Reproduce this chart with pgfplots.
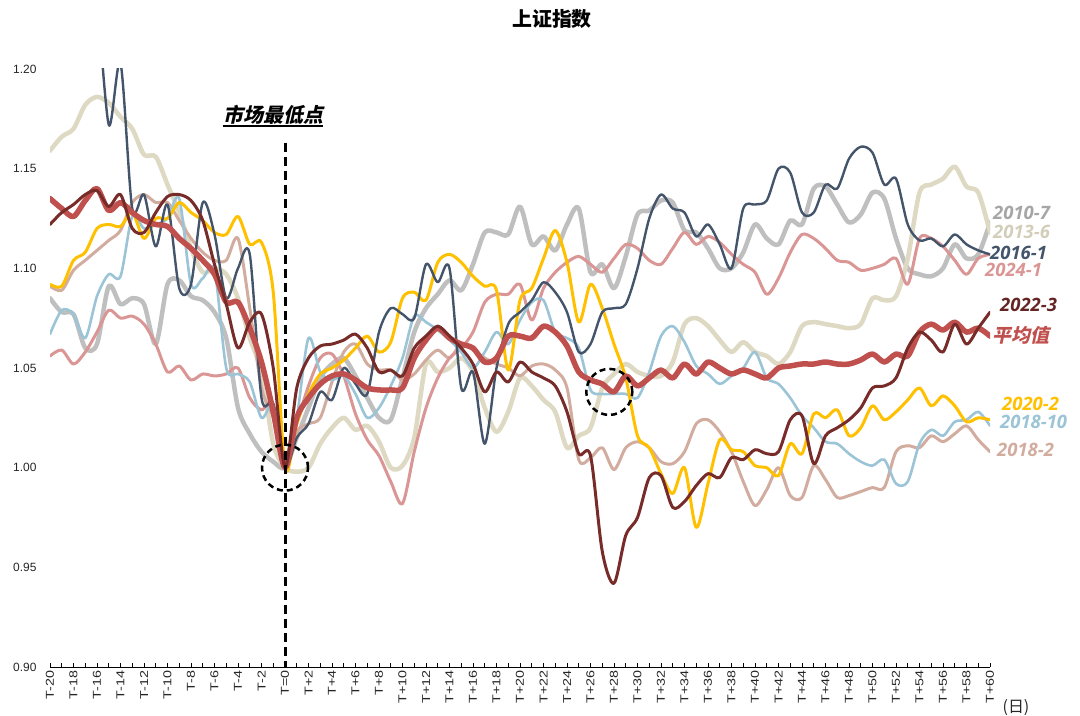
\documentclass[border=0pt]{standalone}
\usepackage{fontspec}
\setmainfont{Liberation Sans}
\newfontfamily\cjk{Noto Sans CJK SC}
\newfontfamily\cjksl{Noto Sans CJK SC}[FakeSlant=0.22]
\newfontfamily\lab{Open Sans}
\usepackage{graphicx}
\usepackage{pgfplots}
\usepackage{pgfplotstable}
\pgfplotsset{compat=1.18}
\definecolor{c2010}{HTML}{BFBFBF}
\definecolor{c2013}{HTML}{DDD9C3}
\definecolor{c2016}{HTML}{44546A}
\definecolor{c2024}{HTML}{DA9694}
\definecolor{c2022}{HTML}{772C2A}
\definecolor{cavg}{HTML}{C0504D}
\definecolor{c2020}{HTML}{FFC000}
\definecolor{c1810}{HTML}{9BC4D6}
\definecolor{c1802}{HTML}{D2AD9F}
% t, 2010-7, 2013-6, 2016-1, 2024-1, 2022-3, avg, 2020-2, 2018-10, 2018-2
\pgfplotstableread{
t a b c d e f g h i
-20 1.085 1.159 nan 1.056 1.122 1.135 1.092 1.067 1.091
-19 1.078 1.166 nan 1.059 1.128 1.130 1.091 1.079 1.089
-18 1.077 1.170 nan 1.052 1.132 1.126 1.104 1.077 1.099
-17 1.060 1.182 nan 1.058 1.137 1.134 1.108 1.065 1.104
-16 1.062 1.186 1.240 1.068 1.139 1.140 1.120 1.086 1.109
-15 1.091 1.183 1.172 1.079 1.131 1.129 1.122 1.097 1.114
-14 1.082 1.176 1.203 1.075 1.137 1.133 1.121 1.096 1.119
-13 1.085 1.170 1.130 1.076 1.120 1.128 1.128 1.126 1.133
-12 1.082 1.157 1.137 1.072 1.118 1.124 1.115 1.120 1.137
-11 1.062 1.156 1.111 1.062 1.128 1.122 1.125 1.122 1.133
-10 1.092 1.142 1.132 1.048 1.136 1.121 1.125 1.125 1.133
-9 1.094 1.128 1.090 1.051 1.137 1.115 1.133 1.135 1.124
-8 1.086 1.110 1.092 1.044 1.134 1.110 1.128 1.092 1.115
-7 1.084 1.098 1.133 1.047 1.124 1.104 1.124 1.095 1.108
-6 1.078 1.100 1.117 1.046 1.102 1.097 1.118 1.099 1.104
-5 1.065 1.097 1.085 1.047 1.082 1.083 1.117 1.050 1.104
-4 1.030 1.085 1.100 1.050 1.060 1.083 1.126 1.047 1.115
-3 1.017 1.065 1.107 1.035 1.073 1.070 1.112 1.043 1.080
-2 1.008 1.048 1.035 1.029 1.077 1.053 1.113 1.025 1.040
-1 1.003 1.012 1.032 1.032 1.050 1.028 1.088 1.031 1.025
0 1.000 1.000 1.000 1.000 1.000 1.000 1.000 1.000 1.000
1 1.015 0.998 1.015 1.022 1.040 1.025 1.022 1.025 1.018
2 1.030 1.000 1.022 1.041 1.055 1.035 1.037 1.065 1.022
3 1.045 1.012 1.038 1.055 1.061 1.042 1.047 1.048 1.025
4 1.052 1.020 1.034 1.057 1.062 1.046 1.050 1.044 1.043
5 1.055 1.025 1.050 1.046 1.064 1.047 1.054 1.046 1.058
6 1.046 1.019 1.042 1.027 1.067 1.044 1.060 1.037 1.062
7 1.035 1.021 1.037 1.014 1.060 1.040 1.066 1.025 1.052
8 1.025 1.013 1.068 1.006 1.048 1.039 1.058 1.030 1.049
9 1.024 1.000 1.080 0.993 1.049 1.039 1.063 1.041 1.049
10 1.045 1.001 1.077 0.982 1.046 1.040 1.085 1.055 1.044
11 1.068 1.015 1.075 1.008 1.060 1.055 1.088 1.076 1.047
12 1.080 1.052 1.102 1.030 1.066 1.064 1.084 1.073 1.054
13 1.087 1.048 1.093 1.045 1.071 1.070 1.103 1.069 1.059
14 1.094 1.050 1.100 1.055 1.066 1.065 1.107 1.064 1.055
15 1.089 1.055 1.040 1.060 1.060 1.062 1.103 1.058 1.062
16 1.102 1.048 1.048 1.068 1.052 1.060 1.096 1.050 1.059
17 1.118 1.030 1.012 1.083 1.038 1.053 1.091 1.058 1.055
18 1.118 1.018 1.050 1.087 1.048 1.055 1.089 1.068 1.052
19 1.117 1.028 1.072 1.087 1.043 1.066 1.049 1.062 1.050
20 1.131 1.045 1.078 1.092 1.053 1.066 1.084 1.074 1.046
21 1.112 1.041 1.084 1.074 1.048 1.065 1.090 1.083 1.051
22 1.116 1.034 1.093 1.090 1.045 1.071 1.105 1.084 1.052
23 1.109 1.028 1.088 1.098 1.041 1.068 1.119 1.068 1.049
24 1.122 1.010 1.078 1.103 1.028 1.061 1.103 1.065 1.040
25 1.130 1.016 1.058 1.106 1.007 1.048 1.073 1.060 1.004
26 1.098 1.020 1.062 1.102 1.006 1.044 1.092 1.039 1.005
27 1.102 1.040 1.078 1.098 0.958 1.042 1.080 1.037 1.010
28 1.090 1.047 1.080 1.105 0.942 1.038 1.062 1.037 0.999
29 1.106 1.052 1.082 1.112 0.966 1.046 1.045 1.037 1.010
30 1.127 1.048 1.100 1.110 0.975 1.041 1.016 1.035 1.013
31 1.129 1.046 1.125 1.104 0.995 1.045 1.010 1.048 1.010
32 1.134 1.046 1.137 1.102 0.996 1.049 0.997 1.066 1.003
33 1.133 1.053 1.130 1.110 0.980 1.045 0.987 1.071 1.002
34 1.119 1.072 1.128 1.118 0.983 1.052 1.000 1.063 1.008
35 1.118 1.075 1.116 1.112 0.991 1.047 0.970 1.051 1.022
36 1.110 1.071 1.122 1.116 0.997 1.053 0.992 1.047 1.024
37 1.100 1.064 1.112 1.113 0.995 1.050 1.014 1.042 1.018
38 1.100 1.058 1.100 1.107 1.005 1.047 1.009 1.046 1.008
39 1.108 1.063 1.130 1.102 1.004 1.049 1.008 1.050 0.993
40 1.122 1.058 1.132 1.098 1.009 1.047 1.001 1.058 0.981
41 1.115 1.056 1.134 1.087 1.007 1.045 1.000 1.045 0.989
42 1.112 1.052 1.150 1.095 1.008 1.050 0.996 1.042 1.000
43 1.124 1.058 1.148 1.108 1.024 1.051 1.012 1.035 0.986
44 1.122 1.071 1.128 1.117 1.026 1.052 1.007 1.026 0.985
45 1.140 1.073 1.128 1.115 1.002 1.052 1.027 1.020 1.001
46 1.141 1.072 1.142 1.110 1.016 1.053 1.025 1.013 0.994
47 1.132 1.071 1.140 1.104 1.020 1.052 1.029 1.012 0.985
48 1.123 1.070 1.155 1.103 1.024 1.052 1.016 1.007 0.986
49 1.127 1.072 1.161 1.099 1.030 1.054 1.020 1.003 0.988
50 1.138 1.085 1.158 1.100 1.040 1.057 1.031 1.001 0.990
51 1.135 1.084 1.142 1.102 1.041 1.053 1.024 1.004 0.990
52 1.115 1.086 1.145 1.105 1.045 1.057 1.028 0.992 1.008
53 1.100 1.105 1.122 1.092 1.060 1.056 1.034 0.993 1.011
54 1.097 1.138 1.114 1.115 1.068 1.068 1.040 1.012 1.010
55 1.096 1.142 1.115 1.115 1.064 1.072 1.031 1.019 1.016
56 1.100 1.145 1.111 1.111 1.058 1.069 1.036 1.016 1.013
57 1.112 1.151 1.117 1.104 1.072 1.073 1.031 1.023 1.017
58 1.105 1.141 1.112 1.097 1.062 1.068 1.023 1.024 1.021
59 1.107 1.138 1.109 1.105 1.070 1.070 1.025 1.028 1.014
60 1.123 1.118 1.107 1.107 1.078 1.066 1.024 1.021 1.008
}\data
\begin{document}
\begin{tikzpicture}[x=1bp,y=1bp]
\path[use as bounding box] (0,0) rectangle (1080,716);
\begin{axis}[
  at={(50bp,49bp)}, anchor=south west,
  scale only axis, width=940bp, height=598bp,
  xmin=-20, xmax=60, ymin=0.9, ymax=1.2,
  axis x line*=bottom, axis y line*=left,
  y axis line style={draw=none},
  x axis line style={black, line width=0.8bp},
  xtick={-20,-18,...,60},
  minor xtick={-19,-17,...,59},
  xtick align=inside,
  major tick length=4bp, minor tick length=4bp,
  xtick style={black, line width=0.6bp},
  minor x tick style={black, line width=0.6bp},
  ytick={0.9,0.95,1,1.05,1.1,1.15,1.2},
  ytick style={draw=none},
  /pgf/number format/assume math mode=true,
  yticklabel style={/pgf/number format/fixed,/pgf/number format/fixed zerofill,/pgf/number format/precision=2, font=\fontsize{12}{14}\selectfont, xshift=-10bp, text=black!85},
  xticklabel={\pgfmathtruncatemacro\tk{round(\tick)}\scalebox{1.25}[1]{T\ifnum\tk>0 +\fi\ifnum\tk=0 =\fi\tk}},
  xticklabel style={rotate=90, anchor=east, font=\fontsize{11.5}{13}\selectfont, text=black!85},
  clip=true,
  every axis plot/.append style={smooth, no markers, line join=round, line cap=round},
]
\addplot[c2010, line width=4.5bp] table[x=t,y=a] {\data};
\addplot[c2013, line width=4.5bp] table[x=t,y=b] {\data};
\addplot[c1802, line width=3bp] table[x=t,y=i] {\data};
\addplot[c2024, line width=3bp] table[x=t,y=d] {\data};
\addplot[c1810, line width=2.6bp] table[x=t,y=h] {\data};
\addplot[c2020, line width=3bp] table[x=t,y=g] {\data};
\addplot[c2016, line width=2.4bp] table[x=t,y=c] {\data};
\addplot[cavg, line width=5.5bp] table[x=t,y=f] {\data};
\addplot[c2022, line width=3bp] table[x=t,y=e] {\data};
\draw[black, line width=3bp, dash pattern=on 9bp off 5bp] (axis cs:0,1.163) -- (axis cs:0,0.9);
\draw[black, line width=2.5bp, dash pattern=on 6bp off 4bp] (axis cs:0,1.0) circle[radius=23bp];
\draw[black, line width=2.5bp, dash pattern=on 6bp off 4bp] (axis cs:27.6,1.038) circle[radius=23bp];
\node[anchor=base, inner sep=0pt, font=\cjksl\bfseries\fontsize{20}{24}\selectfont] (mz) at (axis cs:-1,1.1731) {市场最低点};
\draw[line width=1.8bp] ([yshift=-1.2bp]mz.south west) -- ([yshift=-1.2bp]mz.south east);
\end{axis}
\node[font=\cjk\bfseries\fontsize{20}{24}\selectfont] at (552,697) {上证指数};
\node[font=\cjk\fontsize{16}{18}\selectfont, text=black!85] at (1016,8) {(日)};
\begin{scope}[every node/.style={anchor=west, inner sep=0pt, font=\lab\bfseries\itshape\fontsize{18.5}{22}\selectfont}]
\node[text=black!35] at (993,503) {2010-7};
\node[text=c2013!95!black] at (993,484) {2013-6};
\node[text=c2016] at (990,463) {2016-1};
\node[text=c2024] at (985,446) {2024-1};
\node[text=c2022!85!black] at (1000,411) {2022-3};
\node[text=cavg, font=\cjksl\bfseries\fontsize{19}{22}\selectfont] at (992,381) {平均值};
\node[text=c2020] at (1002,312) {2020-2};
\node[text=c1810] at (1000,294) {2018-10};
\node[text=c1802] at (997,266) {2018-2};
\end{scope}
\end{tikzpicture}
\end{document}
